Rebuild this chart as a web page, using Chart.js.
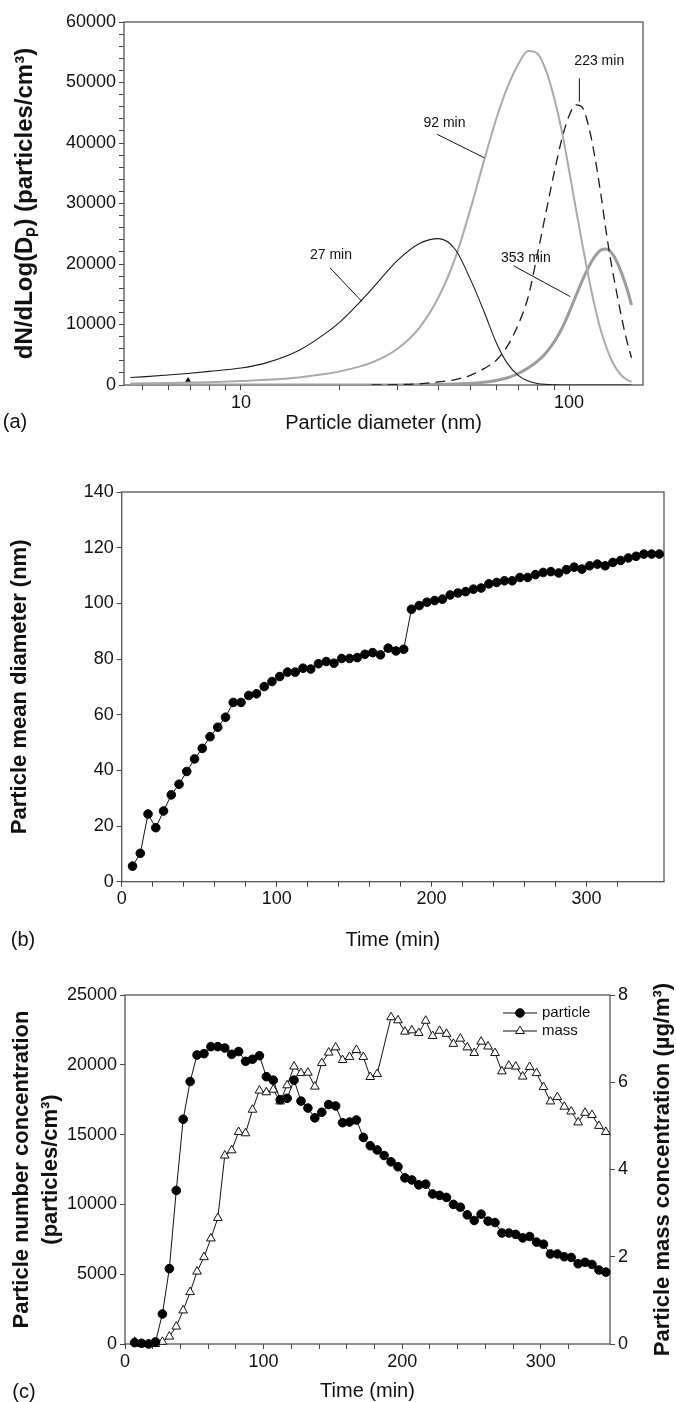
<!DOCTYPE html>
<html>
<head>
<meta charset="utf-8">
<script src="https://cdn.jsdelivr.net/npm/chart.js@4.4.1/dist/chart.umd.min.js"></script>
<style>
  html, body { margin: 0; padding: 0; background: #fff; }
  body { width: 676px; height: 1402px; position: relative; overflow: hidden; }
  canvas { position: absolute; left: 0; }
</style>
</head>
<body>
<canvas id="chartA" width="676" height="445" style="top:0px"></canvas>
<canvas id="chartB" width="676" height="510" style="top:445px"></canvas>
<canvas id="chartC" width="676" height="447" style="top:955px"></canvas>
<script>
// ---- (a) size distributions ----
const diameters = [4.6, 5, 6, 7, 8, 10, 12, 15, 18, 20, 25, 30, 35, 40, 45, 50, 55, 60, 65, 70, 75, 80, 85, 90, 95, 100, 105, 110, 115, 120, 125, 130, 135, 140, 145, 150, 155];
const dist27 = [1250, 1350, 1650, 1950, 2250, 2800, 3700, 5700, 8450, 10400, 15800, 20600, 23400, 24200, 22400, 17500, 12200, 7000, 3500, 1600, 650, 250, 100, 40, 0, 0, 0, 0, 0, 0, 0, 0, 0, 0, 0, 0, 0];
const dist92 = [250, 280, 330, 400, 460, 650, 850, 1250, 1800, 2250, 3700, 6000, 9500, 14500, 21000, 29000, 37000, 44000, 49300, 53000, 55200, 54800, 52000, 47500, 42000, 35500, 29000, 23000, 17500, 12800, 9000, 6200, 4000, 2500, 1500, 900, 500];
const dist223 = [null, null, null, null, null, null, null, null, null, null, 0, 60, 200, 500, 900, 1600, 2700, 4100, 6500, 10000, 14500, 21500, 28500, 35000, 40600, 44500, 46300, 45800, 42500, 37500, 31500, 25000, 19500, 15000, 10800, 7300, 4500];
const dist353 = [0, 0, 0, 0, 0, 0, 0, 0, 0, 0, 0, 0, 30, 80, 150, 280, 450, 750, 1200, 1900, 2800, 3900, 5300, 7100, 9300, 12000, 14800, 17400, 19600, 21300, 22300, 22500, 21800, 20300, 18300, 16000, 13200];
const logTicks = [5, 6, 7, 8, 9, 10, 20, 30, 40, 50, 60, 70, 80, 90, 100];
const logLabels = [10, 100];

// curve labels (text, where the text sits, leader line from -> to), data coords
const noteText = ['27 min', '92 min', '223 min', '353 min'];
const noteX = [18.8, 41.7, 123.6, 73.8];
const noteY = [21500, 43250, 53560, 21040];
const leadX1 = [18.7, 39.6, 107.5, 67.7];
const leadY1 = [19340, 41440, 50700, 19720];
const leadX2 = [23.4, 55.1, 107.5, 100.9];
const leadY2 = [13770, 37570, 46830, 14600];

// ---- (b) and (c) time series ----
const times = [7, 12, 17, 22, 27, 32, 37, 42, 47, 52, 57, 62, 67, 72, 77, 82, 87, 92, 97, 102, 107, 112, 117, 122, 127, 132, 137, 142, 147, 152, 157, 162, 167, 172, 177, 182, 187, 192, 197, 202, 207, 212, 217, 222, 227, 232, 237, 242, 247, 252, 257, 262, 267, 272, 277, 282, 287, 292, 297, 302, 307, 312, 317, 322, 327, 332, 337, 342, 347];
const meanDiameter = [5.6, 10.2, 24.3, 19.4, 25.4, 31.2, 35, 39.6, 44.1, 47.9, 52.1, 55.5, 59.1, 64.4, 64.4, 66.9, 67.5, 70.1, 71.9, 73.7, 75.3, 75.3, 76.7, 76.4, 78.3, 79.1, 78.5, 80.2, 80.2, 80.5, 81.7, 82.3, 81.5, 83.9, 82.9, 83.5, 97.9, 99.2, 100.4, 101, 101.5, 103, 103.7, 104.2, 105.1, 105.5, 107, 107.5, 108.1, 108.1, 109.3, 109.3, 110.3, 111.1, 111.4, 110.9, 112.1, 113, 112.3, 113.5, 114.1, 113.5, 114.7, 115.4, 116.3, 116.9, 117.7, 117.7, 117.7];
const particleConc = [100, 50, 0, 150, 2150, 5400, 11000, 16100, 18800, 20700, 20800, 21300, 21300, 21200, 20750, 20950, 20250, 20400, 20650, 19150, 18900, 17500, 17600, 18900, 17400, 16900, 16200, 16600, 17150, 17050, 15850, 15900, 16050, 14800, 14200, 13900, 13500, 13050, 12700, 11900, 11750, 11400, 11450, 10750, 10650, 10500, 10000, 9800, 9250, 8850, 9300, 8800, 8700, 7950, 7950, 7850, 7600, 7700, 7300, 7150, 6450, 6450, 6250, 6200, 5750, 5850, 5700, 5300, 5150];
const massConc = [0.05, 0, 0, 0, 0.05, 0.17, 0.4, 0.77, 1.19, 1.66, 1.99, 2.42, 2.89, 4.32, 4.44, 4.86, 4.83, 5.37, 5.81, 5.77, 5.83, 5.56, 5.93, 6.36, 6.21, 6.22, 5.9, 6.44, 6.68, 6.8, 6.51, 6.58, 6.74, 6.58, 6.12, 6.19, null, 7.49, 7.42, 7.16, 7.19, 7.13, 7.41, 7.06, 7.18, 7.11, 6.88, 7.0, 6.8, 6.67, 6.93, 6.82, 6.67, 6.25, 6.38, 6.36, 6.13, 6.35, 6.21, 5.89, 5.56, 5.66, 5.44, 5.33, 5.08, 5.3, 5.25, 5.0, 4.86];

const FONT = "'Liberation Sans', Arial, Helvetica, sans-serif";
Chart.defaults.font.family = FONT;
Chart.defaults.color = '#111';
Chart.defaults.animation = false;
Chart.defaults.plugins.legend.display = false;
Chart.defaults.plugins.tooltip.enabled = false;

function pairs(xs, ys) {
  return xs.map((x, i) => ({x: x, y: ys[i]}));
}

// box around the plot area
const framePlugin = {
  id: 'frame',
  beforeDatasetsDraw(chart) {
    const {ctx, chartArea: a} = chart;
    ctx.save();
    ctx.strokeStyle = '#555';
    ctx.lineWidth = 1.3;
    ctx.strokeRect(a.left, a.top, a.right - a.left, a.bottom - a.top);
    ctx.restore();
  }
};

// free text: panel letters, right-hand axis title
const textPlugin = {
  id: 'extraText',
  afterDraw(chart, args, opts) {
    const ctx = chart.ctx;
    (opts.items || []).forEach((it) => {
      ctx.save();
      ctx.font = it.font;
      ctx.fillStyle = '#111';
      ctx.textAlign = it.align || 'center';
      ctx.textBaseline = 'middle';
      ctx.translate(it.x, it.y);
      if (it.rotate) ctx.rotate(it.rotate);
      ctx.fillText(it.text, 0, 0);
      ctx.restore();
    });
  }
};

// curve labels with leader lines for panel (a)
const notesPlugin = {
  id: 'curveNotes',
  afterDatasetsDraw(chart) {
    const {ctx, scales: {x, y}} = chart;
    ctx.save();
    ctx.strokeStyle = '#111';
    ctx.lineWidth = 1;
    ctx.fillStyle = '#111';
    ctx.font = '14px ' + FONT;
    ctx.textAlign = 'center';
    ctx.textBaseline = 'middle';
    noteText.forEach((t, i) => {
      ctx.fillText(t, x.getPixelForValue(noteX[i]), y.getPixelForValue(noteY[i]));
      ctx.beginPath();
      ctx.moveTo(x.getPixelForValue(leadX1[i]), y.getPixelForValue(leadY1[i]));
      ctx.lineTo(x.getPixelForValue(leadX2[i]), y.getPixelForValue(leadY2[i]));
      ctx.stroke();
    });
    ctx.restore();
  }
};

// legend for panel (c): short line with the marker on it
const legendPlugin = {
  id: 'lineLegend',
  afterDraw(chart, args, opts) {
    const ctx = chart.ctx;
    chart.data.datasets.forEach((ds, i) => {
      const yy = opts.y + i * opts.gap;
      ctx.save();
      ctx.strokeStyle = ds.borderColor;
      ctx.lineWidth = ds.borderWidth;
      ctx.beginPath();
      ctx.moveTo(opts.x, yy);
      ctx.lineTo(opts.x + opts.len, yy);
      ctx.stroke();
      ctx.fillStyle = ds.pointBackgroundColor;
      ctx.strokeStyle = ds.pointBorderColor;
      ctx.lineWidth = ds.pointBorderWidth;
      Chart.helpers.drawPoint(ctx, {pointStyle: ds.pointStyle, radius: ds.pointRadius, borderWidth: ds.pointBorderWidth, rotation: 0}, opts.x + opts.len / 2, yy);
      ctx.fillStyle = '#111';
      ctx.font = '15px ' + FONT;
      ctx.textAlign = 'left';
      ctx.textBaseline = 'middle';
      ctx.fillText(ds.label, opts.x + opts.len + 5, yy);
      ctx.restore();
    });
  }
};

function tickGrid() {
  return {display: true, drawOnChartArea: false, drawTicks: true, tickLength: 5, color: '#444', tickWidth: 1};
}
const plain = (v) => String(v);

// ---------- panel (a) ----------
new Chart(document.getElementById('chartA'), {
  type: 'line',
  data: {
    datasets: [
      {label: '27 min', data: pairs(diameters, dist27), borderColor: '#1a1a1a', borderWidth: 1.1},
      {label: '92 min', data: pairs(diameters, dist92), borderColor: '#a9a9a9', borderWidth: 2},
      {label: '223 min', data: pairs(diameters, dist223), borderColor: '#1a1a1a', borderWidth: 1.3, borderDash: [10, 6]},
      {label: '353 min', data: pairs(diameters, dist353), borderColor: '#9c9c9c', borderWidth: 3},
      {label: 'mark', data: [{x: 6.9, y: 700}], showLine: false, pointRadius: 3, pointStyle: 'triangle', backgroundColor: '#000', borderColor: '#000'}
    ]
  },
  options: {
    responsive: false,
    elements: {point: {radius: 0}, line: {cubicInterpolationMode: 'monotone'}},
    layout: {padding: {top: 22, bottom: 10, left: 0, right: 33}},
    scales: {
      x: {
        type: 'logarithmic', min: 4.4, max: 168,
        border: {display: false},
        grid: tickGrid(),
        afterBuildTicks: (s) => { s.ticks = logTicks.map((v) => ({value: v})); },
        afterFit: (s) => { s.height = 50; },
        ticks: {autoSkip: false, maxRotation: 0, padding: 2, font: {size: 18},
          callback: (v) => (logLabels.includes(v) ? String(v) : '')},
        title: {display: true, text: 'Particle diameter (nm)', font: {size: 20}, padding: 0}
      },
      y: {
        min: 0, max: 60000,
        border: {display: false},
        grid: tickGrid(),
        afterFit: (s) => { s.width = 124; },
        ticks: {stepSize: 2000, maxTicksLimit: 1000, autoSkip: false, padding: 3, font: {size: 18},
          callback: (v) => (v % 10000 === 0 ? String(v) : '')},
        title: {display: true, text: 'dN/dLog(Dₚ) (particles/cm³)', font: {size: 24, weight: 'bold'}, padding: {top: 11}}
      }
    },
    plugins: {
      extraText: {items: [{text: '(a)', x: 15, y: 422, font: '20px ' + FONT}]}
    }
  },
  plugins: [framePlugin, notesPlugin, textPlugin]
});

// ---------- panel (b) ----------
new Chart(document.getElementById('chartB'), {
  type: 'line',
  data: {
    datasets: [
      {label: 'diameter', data: pairs(times, meanDiameter), borderColor: '#111', borderWidth: 1,
        pointRadius: 4.3, pointBackgroundColor: '#000', pointBorderColor: '#000', pointBorderWidth: 1}
    ]
  },
  options: {
    responsive: false,
    clip: false,
    layout: {padding: {top: 47, bottom: 3, left: 0, right: 12}},
    scales: {
      x: {
        type: 'linear', min: 0, max: 350,
        border: {display: false},
        grid: tickGrid(),
        afterBuildTicks: (s) => { s.ticks = s.ticks.filter((t) => t.value % 20 === 0); },
        afterFit: (s) => { s.height = 70.3; },
        ticks: {stepSize: 20, maxTicksLimit: 1000, autoSkip: false, maxRotation: 0, padding: 2, font: {size: 18},
          callback: (v) => (v % 100 === 0 ? String(v) : '')},
        title: {display: true, text: 'Time (min)', font: {size: 20}, padding: 0}
      },
      y: {
        min: 0, max: 140,
        border: {display: false},
        grid: tickGrid(),
        afterFit: (s) => { s.width = 121.7; },
        ticks: {stepSize: 20, autoSkip: false, padding: 3, font: {size: 18}, callback: plain},
        title: {display: true, text: 'Particle mean diameter (nm)', font: {size: 22, weight: 'bold'}, padding: {top: 7}}
      }
    },
    plugins: {
      extraText: {items: [{text: '(b)', x: 23, y: 495, font: '20px ' + FONT}]}
    }
  },
  plugins: [framePlugin, textPlugin]
});

// ---------- panel (c) ----------
new Chart(document.getElementById('chartC'), {
  type: 'line',
  data: {
    datasets: [
      {label: 'particle', data: pairs(times, particleConc), yAxisID: 'y', borderColor: '#111', borderWidth: 1,
        pointRadius: 4.3, pointStyle: 'circle', pointBackgroundColor: '#000', pointBorderColor: '#000', pointBorderWidth: 1},
      {label: 'mass', data: pairs(times, massConc), yAxisID: 'y1', borderColor: '#111', borderWidth: 1, spanGaps: true,
        pointRadius: 5, pointStyle: 'triangle', pointBackgroundColor: '#fff', pointBorderColor: '#111', pointBorderWidth: 1}
    ]
  },
  options: {
    responsive: false,
    clip: false,
    layout: {padding: {top: 40, bottom: 1, left: 0, right: 0}},
    scales: {
      x: {
        type: 'linear', min: 0, max: 350,
        border: {display: false},
        grid: tickGrid(),
        afterBuildTicks: (s) => { s.ticks = s.ticks.filter((t) => t.value % 20 === 0); },
        afterFit: (s) => { s.height = 57; },
        ticks: {stepSize: 20, maxTicksLimit: 1000, autoSkip: false, maxRotation: 0, padding: 2, font: {size: 18},
          callback: (v) => (v % 100 === 0 ? String(v) : '')},
        title: {display: true, text: 'Time (min)', font: {size: 20, lineHeight: 1}, padding: 0}
      },
      y: {
        min: 0, max: 25000,
        border: {display: false},
        grid: tickGrid(),
        afterFit: (s) => { s.width = 125; },
        ticks: {stepSize: 5000, autoSkip: false, padding: 3, font: {size: 18}, callback: plain},
        title: {display: true, text: ['Particle number concentration', '(particles/cm³)'],
          font: {size: 22, weight: 'bold', lineHeight: 1.3}, padding: {top: 8}}
      },
      y1: {
        position: 'right', min: 0, max: 8,
        border: {display: false},
        grid: tickGrid(),
        afterFit: (s) => { s.width = 66; },
        ticks: {stepSize: 2, autoSkip: false, padding: 3, font: {size: 18}, callback: plain}
      }
    },
    plugins: {
      lineLegend: {x: 503, y: 58, gap: 18, len: 34},
      extraText: {items: [
        {text: '(c)', x: 24, y: 437, font: '20px ' + FONT},
        {text: 'Particle mass concentration (µg/m³)', x: 663, y: 214.5, rotate: -Math.PI / 2, font: 'bold 22px ' + FONT}
      ]}
    }
  },
  plugins: [framePlugin, legendPlugin, textPlugin]
});
</script>
</body>
</html>
